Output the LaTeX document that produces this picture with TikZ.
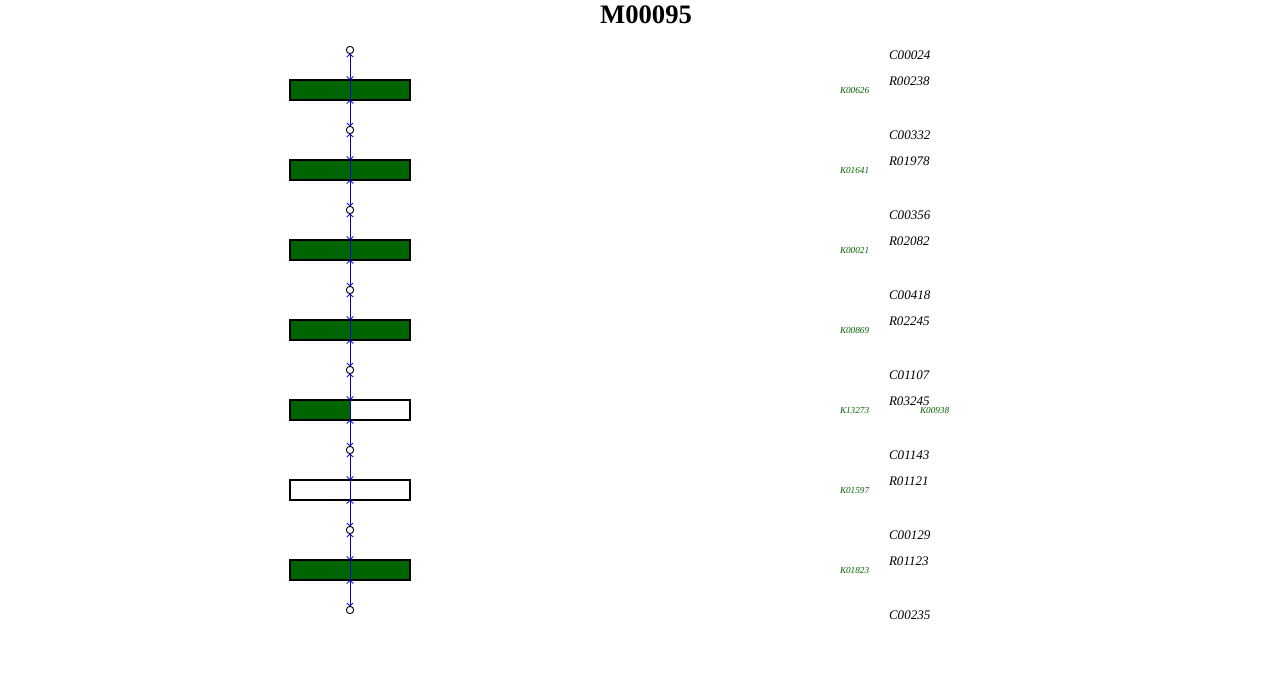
\documentclass[tikz,border=0pt]{standalone}
\usepackage{fontspec}
\setmainfont{Liberation Serif}
\usetikzlibrary{arrows.meta, positioning}
\definecolor{kggreen}{RGB}{0,100,0}

\begin{document}
\begin{tikzpicture}[x=0.75pt, y=-0.75pt, node distance=30pt,
    every node/.style={inner sep=0pt, outer sep=0pt},
    rxn/.style={rectangle, draw, line width=1.5pt, minimum width=90pt, minimum height=15pt},
    full/.style={rxn, fill=kggreen},
    half/.style={rxn, fill=white, path picture={\fill[kggreen] (path picture bounding box.south west) rectangle (path picture bounding box.north);}},
    empty/.style={rxn, fill=white},
    cpd/.style={circle, draw, fill=white, minimum size=5.5pt, line width=0.7pt},
    link/.style={blue!85!black, line width=0.6pt},
    tipped/.style={link, {Straight Barb[length=2.2pt,width=5pt]}-{Straight Barb[length=2.2pt,width=5pt]}},
    clabel/.style={font=\fontsize{9.8}{10}\selectfont\itshape, anchor=west},
    klabel/.style={font=\fontsize{6.9}{7}\selectfont\itshape, text=kggreen, anchor=west}]
    \useasboundingbox (0,0) rectangle (1280,680);

    % Title
    \node[font=\fontsize{20}{22}\selectfont\bfseries] (title) at (646,15) {M00095};

    % Nodes
    \node[cpd] (c1) at (350,50) {};
    \node[full, below of=c1] (r1) {};
    \node[cpd, below of=r1] (c2) {};
    \node[full, below of=c2] (r2) {};
    \node[cpd, below of=r2] (c3) {};
    \node[full, below of=c3] (r3) {};
    \node[cpd, below of=r3] (c4) {};
    \node[full, below of=c4] (r4) {};
    \node[cpd, below of=r4] (c5) {};
    \node[half, below of=c5] (r5) {};
    \node[cpd, below of=r5] (c6) {};
    \node[empty, below of=c6] (r6) {};
    \node[cpd, below of=r6] (c7) {};
    \node[full, below of=c7] (r7) {};
    \node[cpd, below of=r7] (c8) {};

    % Links
    \draw[tipped] (c1) -- (r1.north);  \draw[link] (r1.north) -- (r1.south);  \draw[tipped] (r1.south) -- (c2);
    \draw[tipped] (c2) -- (r2.north);  \draw[link] (r2.north) -- (r2.south);  \draw[tipped] (r2.south) -- (c3);
    \draw[tipped] (c3) -- (r3.north);  \draw[link] (r3.north) -- (r3.south);  \draw[tipped] (r3.south) -- (c4);
    \draw[tipped] (c4) -- (r4.north);  \draw[link] (r4.north) -- (r4.south);  \draw[tipped] (r4.south) -- (c5);
    \draw[tipped] (c5) -- (r5.north);  \draw[link] (r5.north) -- (r5.south);  \draw[tipped] (r5.south) -- (c6);
    \draw[tipped] (c6) -- (r6.north);  \draw[link] (r6.north) -- (r6.south);  \draw[tipped] (r6.south) -- (c7);
    \draw[tipped] (c7) -- (r7.north);  \draw[link] (r7.north) -- (r7.south);  \draw[tipped] (r7.south) -- (c8);

    % Compound and reaction labels
    \node[clabel] (lc1) at (889,55) {C00024};
    \node[clabel] (lr1) at (889,81) {R00238};
    \node[clabel] (lc2) at (889,135) {C00332};
    \node[clabel] (lr2) at (889,161) {R01978};
    \node[clabel] (lc3) at (889,215) {C00356};
    \node[clabel] (lr3) at (889,241) {R02082};
    \node[clabel] (lc4) at (889,295) {C00418};
    \node[clabel] (lr4) at (889,321) {R02245};
    \node[clabel] (lc5) at (889,375) {C01107};
    \node[clabel] (lr5) at (889,401) {R03245};
    \node[clabel] (lc6) at (889,455) {C01143};
    \node[clabel] (lr6) at (889,481) {R01121};
    \node[clabel] (lc7) at (889,535) {C00129};
    \node[clabel] (lr7) at (889,561) {R01123};
    \node[clabel] (lc8) at (889,615) {C00235};

    % KO labels
    \node[klabel] (k1) at (840,90) {K00626};
    \node[klabel] (k2) at (840,170) {K01641};
    \node[klabel] (k3) at (840,250) {K00021};
    \node[klabel] (k4) at (840,330) {K00869};
    \node[klabel] (k5) at (840,410) {K13273};
    \node[klabel] (k5b) at (920,410) {K00938};
    \node[klabel] (k6) at (840,490) {K01597};
    \node[klabel] (k7) at (840,570) {K01823};
\end{tikzpicture}
\end{document}
